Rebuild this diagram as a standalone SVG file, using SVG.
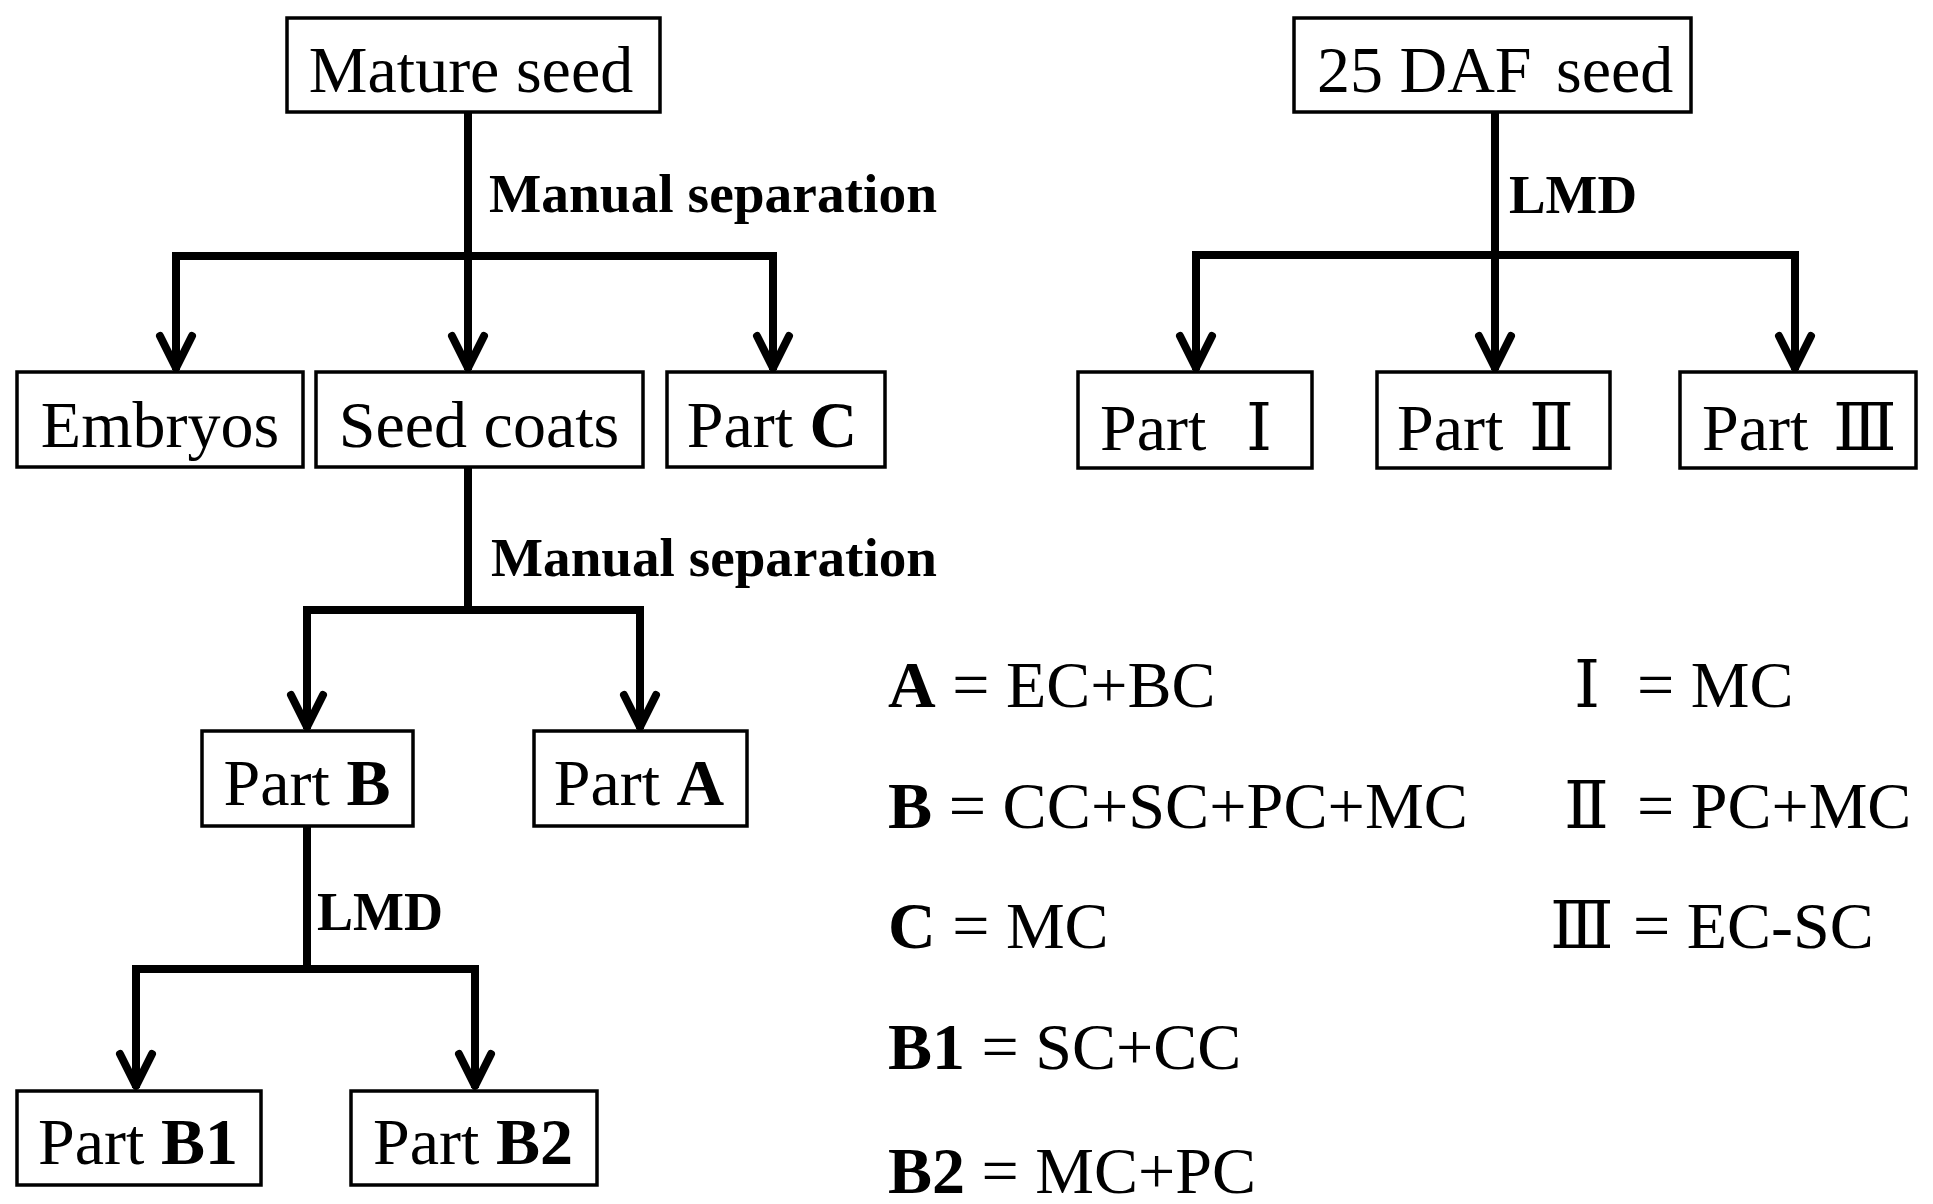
<svg xmlns="http://www.w3.org/2000/svg" width="1933" height="1204" viewBox="0 0 1933 1204">
<style>
.box{fill:#fff;stroke:#000;stroke-width:3.5}
.t{font-family:"Liberation Serif","Times New Roman","DejaVu Serif","Noto Sans CJK SC",serif;font-size:66px;fill:#000}
.c{text-anchor:middle}
.b{font-weight:bold}
.lbl{font-family:"Liberation Serif","Times New Roman",serif;font-size:54px;font-weight:bold;fill:#000}
.ln{fill:none;stroke:#000;stroke-width:8;stroke-linecap:square}
.rn{font-family:"DejaVu Serif","Liberation Serif","Noto Sans CJK SC",serif;font-size:66px;fill:#000}
</style>
<defs>
<path id="ah" d="M-16,-36 L0,-4 L16,-36" fill="none" stroke="#000" stroke-width="8" stroke-linecap="round" stroke-linejoin="round"/>
</defs>
<rect width="1933" height="1204" fill="#fff"/>

<g id="connectors">
<path class="ln" d="M468,113 V256 M176,256 H773 M176,256 V366 M468,256 V366 M773,256 V366"/>
<path class="ln" d="M1495,113 V255 M1196,255 H1795 M1196,255 V366 M1495,255 V366 M1795,255 V366"/>
<path class="ln" d="M468,468 V610 M307,610 H640 M307,610 V725 M640,610 V725"/>
<path class="ln" d="M307,827 V969 M136,969 H475 M136,969 V1084 M475,969 V1084"/>
<use href="#ah" transform="translate(176,372)"/>
<use href="#ah" transform="translate(468,372)"/>
<use href="#ah" transform="translate(773,372)"/>
<use href="#ah" transform="translate(1196,372)"/>
<use href="#ah" transform="translate(1495,372)"/>
<use href="#ah" transform="translate(1795,372)"/>
<use href="#ah" transform="translate(307,731)"/>
<use href="#ah" transform="translate(640,731)"/>
<use href="#ah" transform="translate(136,1090)"/>
<use href="#ah" transform="translate(475,1090)"/>
<text class="lbl" x="489" y="212" textLength="448" lengthAdjust="spacingAndGlyphs">Manual separation</text>
<text class="lbl" x="1509" y="213" textLength="128" lengthAdjust="spacingAndGlyphs">LMD</text>
<text class="lbl" x="491" y="576" textLength="446" lengthAdjust="spacingAndGlyphs">Manual separation</text>
<text class="lbl" x="317" y="930" textLength="126" lengthAdjust="spacingAndGlyphs">LMD</text>
</g>

<g id="mature-seed">
<rect class="box" x="287" y="18" width="373" height="94"/>
<text class="t c" x="471" y="92">Mature seed</text>
</g>
<g id="daf-seed">
<rect class="box" x="1294" y="18" width="397" height="94"/>
<text class="t" y="92"><tspan x="1317">25 DAF</tspan><tspan x="1556">seed</tspan></text>
</g>
<g id="embryos">
<rect class="box" x="17" y="372" width="286" height="95"/>
<text class="t c" x="160" y="447">Embryos</text>
</g>
<g id="seed-coats">
<rect class="box" x="316" y="372" width="327" height="95"/>
<text class="t c" x="479" y="447">Seed coats</text>
</g>
<g id="part-c">
<rect class="box" x="667" y="372" width="218" height="95"/>
<text class="t c" x="772" y="447">Part <tspan class="b">C</tspan></text>
</g>
<g id="part-1">
<rect class="box" x="1078" y="372" width="234" height="96"/>
<text class="t" x="1100" y="450">Part</text>
<text class="rn" x="1246" y="450">Ⅰ</text>
</g>
<g id="part-2">
<rect class="box" x="1377" y="372" width="233" height="96"/>
<text class="t" x="1397" y="450">Part</text>
<text class="rn" x="1529" y="450">Ⅱ</text>
</g>
<g id="part-3">
<rect class="box" x="1680" y="372" width="236" height="96"/>
<text class="t" x="1702" y="450">Part</text>
<text class="rn" x="1833" y="450">Ⅲ</text>
</g>
<g id="part-b">
<rect class="box" x="202" y="731" width="211" height="95"/>
<text class="t c" x="307" y="805">Part <tspan class="b">B</tspan></text>
</g>
<g id="part-a">
<rect class="box" x="534" y="731" width="213" height="95"/>
<text class="t c" x="639" y="805">Part <tspan class="b">A</tspan></text>
</g>
<g id="part-b1">
<rect class="box" x="17" y="1091" width="244" height="94"/>
<text class="t c" x="138" y="1164">Part <tspan class="b">B1</tspan></text>
</g>
<g id="part-b2">
<rect class="box" x="351" y="1091" width="246" height="94"/>
<text class="t c" x="473" y="1164">Part <tspan class="b">B2</tspan></text>
</g>

<g id="legend">
<text class="t" x="888" y="707"><tspan class="b">A</tspan> = EC+BC</text>
<text class="t" x="888" y="828" textLength="580" lengthAdjust="spacingAndGlyphs"><tspan class="b">B</tspan> = CC+SC+PC+MC</text>
<text class="t" x="888" y="948"><tspan class="b">C</tspan> = MC</text>
<text class="t" x="888" y="1069"><tspan class="b">B1</tspan> = SC+CC</text>
<text class="t" x="888" y="1193"><tspan class="b">B2</tspan> = MC+PC</text>
<text class="rn" x="1574" y="707">Ⅰ</text>
<text class="t" x="1637" y="707">= MC</text>
<text class="rn" x="1564" y="828">Ⅱ</text>
<text class="t" x="1637" y="828">= PC+MC</text>
<text class="rn" x="1550" y="948">Ⅲ</text>
<text class="t" x="1633" y="948">= EC-SC</text>
</g>
</svg>
